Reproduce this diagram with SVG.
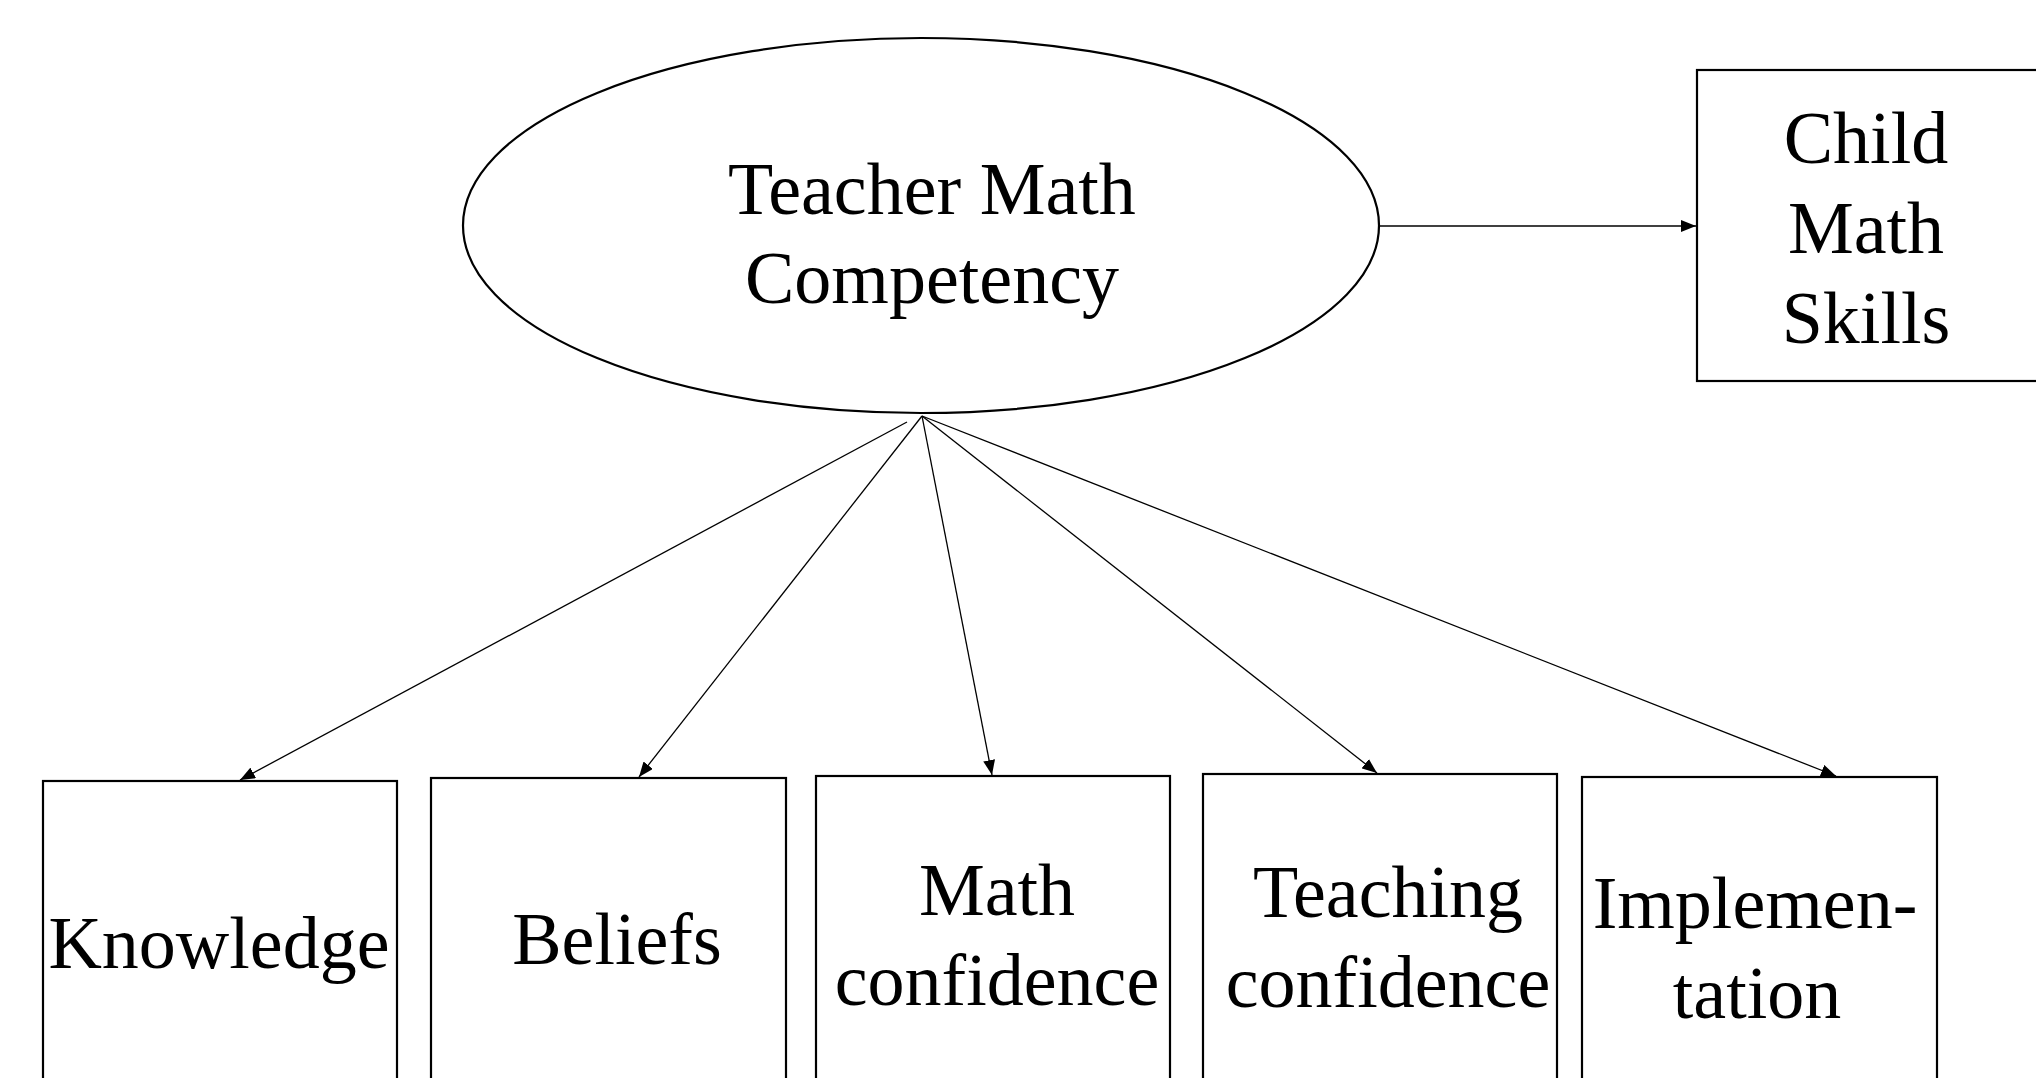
<svg xmlns="http://www.w3.org/2000/svg" width="2036" height="1078" viewBox="0 0 2036 1078">
  <style>
    .shape { fill: #ffffff; stroke: #000000; stroke-width: 2.2; }
    .lbl { font-family: "Liberation Serif", "Times New Roman", serif; font-size: 74px; fill: #000000; text-anchor: middle; }
    .edge { fill: none; stroke: #000000; stroke-width: 1.3; marker-end: url(#arrow); }
  </style>
  <defs>
    <marker id="arrow" markerUnits="userSpaceOnUse" markerWidth="16" markerHeight="12" refX="15" refY="6" orient="auto">
      <path d="M0,0 L15,6 L0,12 Z" fill="#000000"/>
    </marker>
  </defs>
  <rect width="2036" height="1078" fill="#ffffff"/>

  <!-- latent construct -->
  <g id="teacher-math-competency">
    <ellipse class="shape" cx="921" cy="225.5" rx="458" ry="187.5"/>
    <text class="lbl" x="932" y="214">Teacher Math</text>
    <text class="lbl" x="932" y="303">Competency</text>
  </g>

  <!-- outcome -->
  <g id="child-math-skills">
    <rect class="shape" x="1697" y="70" width="360" height="311"/>
    <text class="lbl" x="1866" y="163">Child</text>
    <text class="lbl" x="1866" y="253">Math</text>
    <text class="lbl" x="1866" y="343">Skills</text>
  </g>

  <!-- indicators -->
  <g id="knowledge">
    <rect class="shape" x="43" y="781" width="354" height="320"/>
    <text class="lbl" x="219" y="968">Knowledge</text>
  </g>
  <g id="beliefs">
    <rect class="shape" x="431" y="778" width="355" height="320"/>
    <text class="lbl" x="617" y="964">Beliefs</text>
  </g>
  <g id="math-confidence">
    <rect class="shape" x="816" y="776" width="354" height="320"/>
    <text class="lbl" x="997" y="915">Math</text>
    <text class="lbl" x="997" y="1005">confidence</text>
  </g>
  <g id="teaching-confidence">
    <rect class="shape" x="1203" y="774" width="354" height="320"/>
    <text class="lbl" x="1388" y="917">Teaching</text>
    <text class="lbl" x="1388" y="1007">confidence</text>
  </g>
  <g id="implementation">
    <rect class="shape" x="1582" y="777" width="355" height="320"/>
    <text class="lbl" x="1755" y="928">Implemen-</text>
    <text class="lbl" x="1757" y="1018">tation</text>
  </g>

  <!-- paths -->
  <g id="connectors">
    <line class="edge" x1="1380" y1="226" x2="1696" y2="226"/>
    <line class="edge" x1="907" y1="422" x2="240" y2="780"/>
    <line class="edge" x1="922" y1="416" x2="639" y2="777"/>
    <line class="edge" x1="922" y1="416" x2="992" y2="775"/>
    <line class="edge" x1="922" y1="416" x2="1377" y2="773"/>
    <line class="edge" x1="922" y1="416" x2="1836" y2="776"/>
  </g>
</svg>
